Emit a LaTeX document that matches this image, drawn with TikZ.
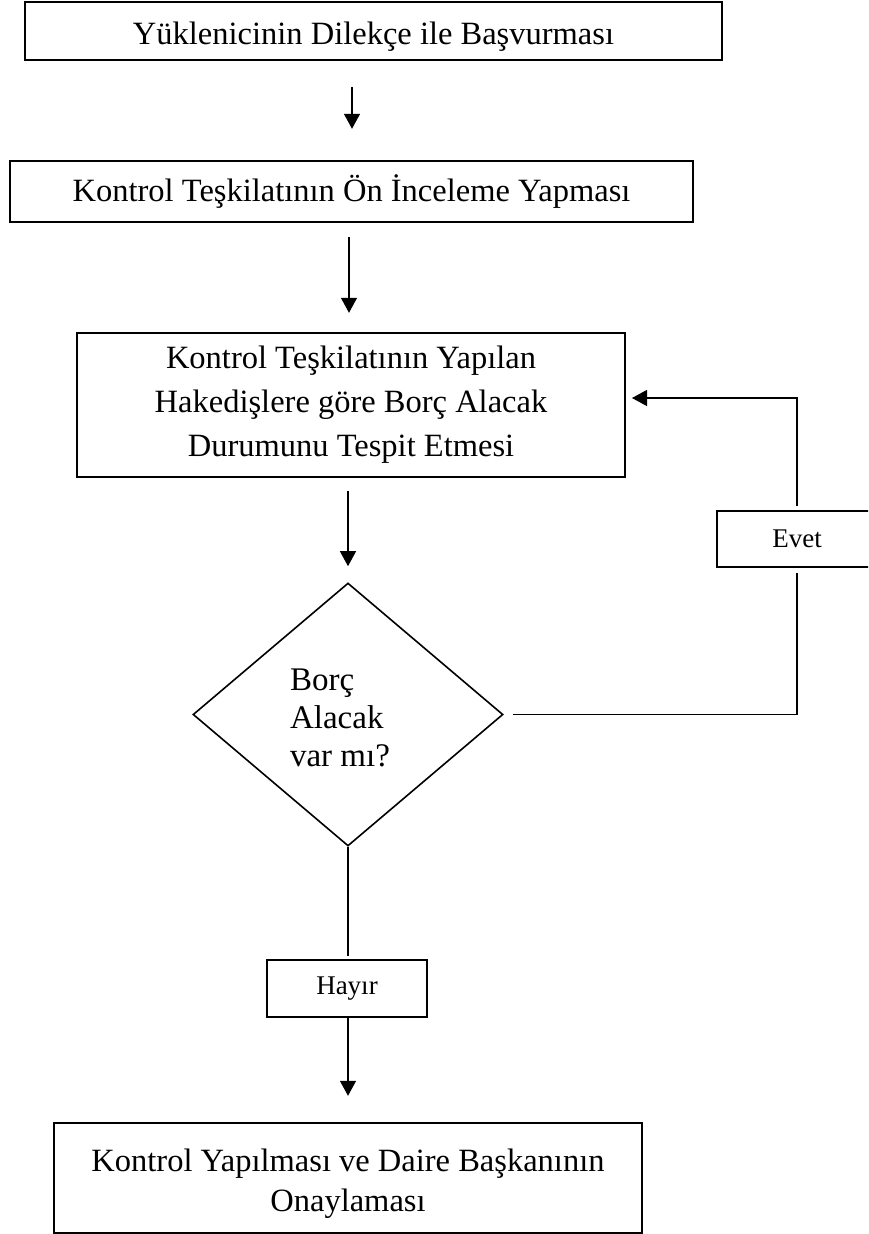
\documentclass[tikz,border=0pt]{standalone}
\usepackage{fontspec}
\setmainfont{Liberation Serif}
\usetikzlibrary{shapes.geometric,arrows.meta}
\begin{document}
\begin{tikzpicture}[x=1pt,y=-1pt,
  box/.style={draw,line width=2.4pt,rectangle,inner sep=0pt,align=center,
    font=\fontsize{32.5}{40}\selectfont},
  lbl/.style={draw,line width=2pt,rectangle,inner sep=0pt,
    font=\fontsize{27}{30}\selectfont},
  decbox/.style={draw,line width=1.6pt,diamond,inner sep=0pt},
  dectxt/.style={inner sep=0pt,align=left,font=\fontsize{33}{38}\selectfont},
  conn/.style={line width=1.3pt},
  arr/.style={conn,-{Triangle[length=15pt,width=16pt]}}]
\clip (0,0) rectangle (868,1234);
\fill[white] (0,0) rectangle (868,1234);

\node[box,minimum width=697pt,minimum height=58pt] (b1) at (373.5,31)
  {\raisebox{-13pt}[0pt][0pt]{Yüklenicinin Dilekçe ile Başvurması}};
\node[box,minimum width=683pt,minimum height=61pt] (b2) at (351.5,191.5)
  {Kontrol Teşkilatının Ön İnceleme Yapması};
\node[box,minimum width=548pt,minimum height=144pt,
  font=\fontsize{32.5}{44}\selectfont] (b3) at (351,405)
  {Kontrol Teşkilatının Yapılan\\Hakedişlere göre Borç Alacak\\Durumunu Tespit Etmesi};
\node[decbox,minimum width=310pt,minimum height=263pt] (dec) at (348,714.5) {};
\node[dectxt] (dtext) at (340,718) {Borç\\Alacak\\var mı?};
\node[lbl,minimum width=160pt,minimum height=56pt] (evet) at (797,539) {Evet};
\node[lbl,minimum width=160pt,minimum height=57pt] (hayir) at (347,988.5) {Hayır};
\node[box,minimum width=588pt,minimum height=110pt] (b4) at (348,1178)
  {\raisebox{-12pt}[0pt][0pt]{\begin{tabular}{@{}c@{}}Kontrol Yapılması ve Daire Başkanının\\Onaylaması\end{tabular}}};
\coordinate (fb) at (625,398);

\draw[arr,shorten <=26pt,shorten >=31pt] ([xshift=-21.5pt]b1.south) -- ([xshift=0.5pt]b2.north);
\draw[arr,shorten <=14pt,shorten >=19pt] ([xshift=-2.5pt]b2.south) -- ([xshift=-2pt]b3.north);
\draw[arr,shorten <=13pt,shorten >=16pt] ([xshift=-3pt]b3.south) -- (dec.north);
\draw[conn,shorten >=3pt] (dec.south) -- (dec.south |- hayir.north);
\draw[arr,shorten >=26pt] ([xshift=1pt]hayir.south) -- (b4.north);
\draw[conn,shorten <=9pt,shorten >=5pt] (dec.east) -- (dec.east -| evet.south) -- (evet.south);
\draw[arr,shorten <=4pt,shorten >=7pt] (evet.north) -- (evet.north |- fb) -- (fb);
\end{tikzpicture}
\end{document}
